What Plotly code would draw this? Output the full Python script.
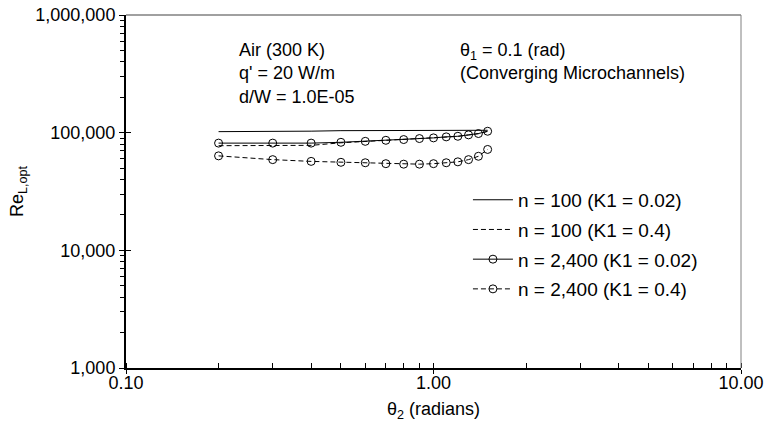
import plotly.graph_objects as go

theta2 = [0.2, 0.3, 0.4, 0.5, 0.6, 0.7, 0.8, 0.9, 1.0, 1.1, 1.2, 1.3, 1.4, 1.5]
re_n100_k002 = [102000, 102000, 103000, 104000, 104000, 104000, 104000, 104200, 104300, 104400, 104500, 104600, 104700, 104800]
re_n100_k04 = [77500, 77500, 78000, 82000, 84000, 85800, 87200, 89000, 90200, 92000, 93000, 95600, 98000, 102500]
re_n2400_k002 = [81500, 81500, 81500, 82800, 84400, 86100, 87400, 89100, 90300, 92100, 93200, 95800, 98300, 102800]
re_n2400_k04 = [63500, 59000, 57000, 56000, 55500, 54500, 54000, 54000, 54500, 55500, 56500, 59000, 63000, 72000]

names = ["n = 100 (K1 = 0.02)", "n = 100 (K1 = 0.4)", "n = 2,400 (K1 = 0.02)", "n = 2,400 (K1 = 0.4)"]
ytickvals = [1000, 10000, 100000, 1000000]
yticktext = ["1,000", "10,000", "100,000", "1,000,000"]
xtickvals = [0.1, 1, 10]
xticktext = ["0.10", "1.00", "10.00"]

FONT = "Liberation Sans, Arial, sans-serif"
FS = 18
DASH = "5px,3px"

fig = go.Figure()
fig.add_trace(go.Scatter(x=theta2, y=re_n100_k002, name=names[0], mode="lines",
                         line=dict(color="black", width=1), legendgroup="a"))
fig.add_trace(go.Scatter(x=theta2, y=re_n100_k04, name=names[1], mode="lines",
                         line=dict(color="black", width=1, dash=DASH), legendgroup="b"))
fig.add_trace(go.Scatter(x=theta2, y=re_n2400_k002, name=names[2], mode="lines+markers",
                         line=dict(color="black", width=1),
                         marker=dict(symbol="circle-open", size=8, color="black", line=dict(width=1)),
                         legendgroup="c"))
fig.add_trace(go.Scatter(x=theta2, y=re_n2400_k04, name=names[3], mode="lines+markers",
                         line=dict(color="black", width=1, dash=DASH),
                         marker=dict(symbol="circle-open", size=8, color="black", line=dict(width=1)),
                         legendgroup="d"))
# helper invisible trace so the overlay axes (inside halves of major ticks) render
fig.add_trace(go.Scatter(x=[1], y=[10000], xaxis="x2", yaxis="y2", mode="markers",
                         marker=dict(opacity=0), showlegend=False, hoverinfo="skip"))

fig.update_layout(
    width=767, height=436,
    margin=dict(l=126, r=26, t=15, b=68),
    paper_bgcolor="white", plot_bgcolor="white",
    font=dict(family=FONT, size=FS, color="black"),
    showlegend=True,
    legend=dict(x=0.556, xanchor="left", y=0.53, yanchor="top",
                bgcolor="rgba(0,0,0,0)", font=dict(size=19), itemwidth=40,
                traceorder="grouped", tracegroupgap=2),
    xaxis=dict(type="log", range=[-1, 1], showgrid=False, zeroline=False, automargin=False,
               showline=True, linecolor="black", linewidth=2,
               tickvals=xtickvals, ticktext=xticktext, ticklabeloverflow="allow",
               ticks="outside", ticklen=4, tickwidth=1, tickcolor="black",
               ticklabelstandoff=-7,
               minor=dict(ticks="inside", ticklen=5, tickwidth=1, tickcolor="black",
                          dtick="D1", showgrid=False),
               title=dict(text="θ<sub>2</sub> (radians)", font=dict(size=FS), standoff=11)),
    yaxis=dict(type="log", range=[3, 6], showgrid=False, zeroline=False, automargin=False,
               showline=True, linecolor="black", linewidth=2,
               tickvals=ytickvals, ticktext=yticktext, ticklabeloverflow="allow",
               ticks="outside", ticklen=5, tickwidth=1, tickcolor="black",
               minor=dict(ticks="outside", ticklen=4, tickwidth=1, tickcolor="black",
                          dtick="D1", showgrid=False),
               title=dict(text="Re<sub>L,opt</sub>", font=dict(size=FS), standoff=7)),
    xaxis2=dict(type="log", range=[-1, 1], overlaying="x", anchor="y2", side="bottom",
                showgrid=False, zeroline=False, showline=False, automargin=False,
                tickvals=xtickvals, showticklabels=False,
                ticks="inside", ticklen=5, tickwidth=1, tickcolor="black"),
    yaxis2=dict(type="log", range=[3, 6], overlaying="y", anchor="x2", side="left",
                showgrid=False, zeroline=False, showline=False, automargin=False,
                tickvals=ytickvals, showticklabels=False,
                ticks="inside", ticklen=5, tickwidth=1, tickcolor="black"),
)

# top and right frame lines (thin gray)
fig.add_shape(type="line", xref="paper", yref="paper", x0=0, x1=1, y0=1, y1=1,
              line=dict(color="#808080", width=1.5))
fig.add_shape(type="line", xref="paper", yref="paper", x0=1, x1=1, y0=0, y1=1,
              line=dict(color="#808080", width=1))

fig.add_annotation(xref="paper", yref="paper", x=0.18, y=0.935, xanchor="left", yanchor="top",
                   align="left", showarrow=False,
                   text="Air (300 K)<br>q' = 20 W/m<br>d/W = 1.0E-05",
                   font=dict(size=FS))
fig.add_annotation(xref="paper", yref="paper", x=0.54, y=0.935, xanchor="left", yanchor="top",
                   align="left", showarrow=False,
                   text="θ<sub>1</sub> = 0.1 (rad)<br>(Converging Microchannels)",
                   font=dict(size=FS))

# remove the default page margin so the figure sits at the window's top-left corner
fig.write_html("out.html", config={"displayModeBar": False},
               post_script="document.body.style.margin='0';document.body.style.overflow='hidden';")
